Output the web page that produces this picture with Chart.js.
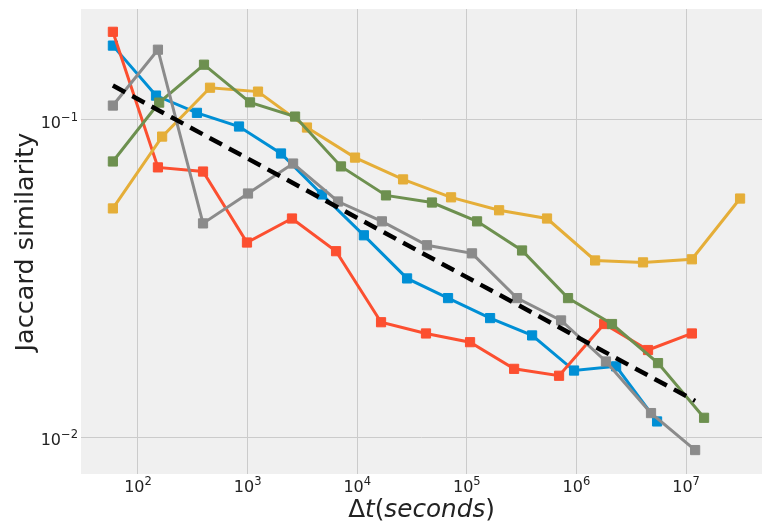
<!DOCTYPE html>
<html>
<head>
<meta charset="utf-8">
<script src="https://cdn.jsdelivr.net/npm/chart.js@4"></script>
<style>
html, body { margin: 0; padding: 0; background: #fff; overflow: hidden; }
</style>
</head>
<body>
<!-- canvas is a few px wider than the window: the extra strip is the point-overflow padding -->
<canvas id="chart" width="770" height="522"></canvas>
<script>
// values (log-log)
const blueX = [59, 146, 345, 835, 2017, 4770, 11500, 28500, 67400, 163000, 394000, 951000, 2.30e6, 5.44e6];
const blueY = [0.171, 0.119, 0.105, 0.0951, 0.0782, 0.0581, 0.0432, 0.0316, 0.0274, 0.0237, 0.0209, 0.0162, 0.0167, 0.0112];

const redX = [59, 152, 392, 987, 2540, 6410, 16500, 42400, 107000, 270000, 694000, 1.79e6, 4.50e6, 1.13e7];
const redY = [0.189, 0.0707, 0.0686, 0.0410, 0.0488, 0.0385, 0.0230, 0.0212, 0.0199, 0.0164, 0.0156, 0.0227, 0.0188, 0.0212];

const yellowX = [59, 166, 454, 1244, 3480, 9550, 26200, 71800, 197000, 539000, 1.48e6, 4.05e6, 1.13e7, 3.11e7];
const yellowY = [0.0525, 0.0884, 0.126, 0.1225, 0.0944, 0.0759, 0.0648, 0.0569, 0.0518, 0.0488, 0.0360, 0.0355, 0.0363, 0.0564];

const greenX = [59, 156, 400, 1052, 2710, 7110, 18300, 48100, 124000, 319000, 838000, 2.11e6, 5.55e6, 1.46e7];
const greenY = [0.0738, 0.1131, 0.1489, 0.1133, 0.1022, 0.0712, 0.0577, 0.0548, 0.0478, 0.0387, 0.0274, 0.0227, 0.0171, 0.0115];

const grayX = [59, 152, 392, 1008, 2600, 6680, 16800, 43300, 111500, 287000, 724000, 1.86e6, 4.79e6, 1.21e7];
const grayY = [0.1107, 0.166, 0.0471, 0.0585, 0.0727, 0.0552, 0.0478, 0.0402, 0.0379, 0.0274, 0.0233, 0.0173, 0.0119, 0.0091];

// power-law fit (dashed)
const fitX = [59, 1.21e7];
const fitY = [0.128, 0.0130];

// ticks: value, base text, exponent text
const xTicks = [1e2, 1e3, 1e4, 1e5, 1e6, 1e7];
const xTickExp = ['2', '3', '4', '5', '6', '7'];
const yTicks = [0.01, 0.1];
const yTickExp = ['\u22122', '\u22121'];

const FONT = 'DejaVu Sans';

function pts(xs, ys) {
    return xs.map((x, i) => ({ x: x, y: ys[i] }));
}

function series(xs, ys, color, order) {
    return {
        data: pts(xs, ys),
        borderColor: color,
        backgroundColor: color,
        borderWidth: 3,
        pointStyle: 'rect',
        pointRadius: 6.5,
        pointBorderWidth: 1,
        pointHoverRadius: 6.5,
        tension: 0,
        order: order
    };
}

// grey plot background + white figure
const bgPlugin = {
    id: 'bg',
    beforeDraw(chart) {
        const ctx = chart.ctx;
        const a = chart.chartArea;
        ctx.save();
        ctx.fillStyle = '#ffffff';
        ctx.fillRect(0, 0, chart.width, chart.height);
        ctx.fillStyle = '#f0f0f0';
        ctx.fillRect(a.left, a.top, a.right - a.left, a.bottom - a.top);
        ctx.restore();
    }
};

// "10" with a raised, smaller exponent, like matplotlib mathtext
function powerLabel(ctx, exp, x, y, align) {
    const big = '16px "' + FONT + '"';
    const small = '11.5px "' + FONT + '"';
    ctx.font = big;
    const wb = ctx.measureText('10').width;
    ctx.font = small;
    const ws = ctx.measureText(exp).width;
    const w = wb + ws;
    let x0 = x - w / 2;
    if (align === 'right') x0 = x - w;
    ctx.textAlign = 'left';
    ctx.textBaseline = 'alphabetic';
    ctx.font = big;
    ctx.fillText('10', x0, y);
    ctx.font = small;
    ctx.fillText(exp, x0 + wb, y - 7);
}

// tick labels and axis titles (x title mixes upright and italic)
const textPlugin = {
    id: 'texts',
    afterDraw(chart) {
        const ctx = chart.ctx;
        const a = chart.chartArea;
        const sx = chart.scales.x;
        const sy = chart.scales.y;
        ctx.save();
        ctx.fillStyle = '#222';

        xTicks.forEach((v, i) => powerLabel(ctx, xTickExp[i], sx.getPixelForValue(v), 492, 'center'));
        yTicks.forEach((v, i) => powerLabel(ctx, yTickExp[i], 78, sy.getPixelForValue(v) + 8, 'right'));

        const parts = [['Δ', false], ['t', true], ['(', false], ['seconds', true], [')', false]];
        const fontFor = p => (p[1] ? 'italic ' : '') + '24.7px "' + FONT + '"';
        let total = 0;
        parts.forEach(p => {
            ctx.font = fontFor(p);
            total += ctx.measureText(p[0]).width;
        });
        let x = (a.left + a.right) / 2 - total / 2;
        ctx.textBaseline = 'alphabetic';
        ctx.textAlign = 'left';
        parts.forEach(p => {
            ctx.font = fontFor(p);
            ctx.fillText(p[0], x, 517);
            x += ctx.measureText(p[0]).width;
        });

        ctx.translate(33, 242);
        ctx.rotate(-Math.PI / 2);
        ctx.font = '25.5px "' + FONT + '"';
        ctx.textAlign = 'center';
        ctx.fillText('Jaccard similarity', 0, 0);
        ctx.restore();
    }
};

const ctx = document.getElementById('chart').getContext('2d');
const chart = new Chart(ctx, {
    type: 'line',
    data: {
        datasets: [
            {
                data: pts(fitX, fitY),
                borderColor: '#000',
                borderWidth: 4.5,
                borderDash: [14, 8],
                pointRadius: 0,
                pointHoverRadius: 0,
                order: 0
            },
            series(grayX, grayY, '#8b8b8b', 1),
            series(greenX, greenY, '#6d904f', 2),
            series(yellowX, yellowY, '#e5ae38', 3),
            series(redX, redY, '#fc4f30', 4),
            series(blueX, blueY, '#008fd5', 5)
        ]
    },
    options: {
        responsive: false,
        animation: false,
        devicePixelRatio: 1,
        layout: { padding: { top: 9, right: 8, left: 0, bottom: 0 } },
        plugins: {
            legend: { display: false },
            tooltip: { enabled: false }
        },
        scales: {
            x: {
                type: 'logarithmic',
                min: 30.2,
                max: 4.93e7,
                afterBuildTicks: s => { s.ticks = xTicks.map(v => ({ value: v })); },
                afterFit: s => { s.height = 48; },
                border: { display: false },
                grid: { color: '#cbcbcb', lineWidth: 1, drawTicks: false },
                ticks: { display: false }
            },
            y: {
                type: 'logarithmic',
                min: 0.00765,
                max: 0.223,
                afterBuildTicks: s => { s.ticks = yTicks.map(v => ({ value: v })); },
                afterFit: s => { s.width = 81; },
                border: { display: false },
                grid: { color: '#cbcbcb', lineWidth: 1, drawTicks: false },
                ticks: { display: false }
            }
        }
    },
    plugins: [bgPlugin, textPlugin]
});
</script>
</body>
</html>
